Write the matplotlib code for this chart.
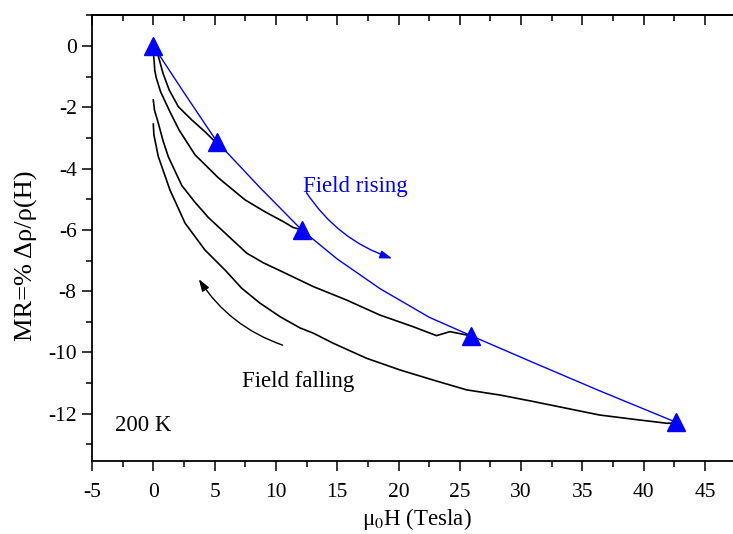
import numpy as np
import matplotlib.pyplot as plt
from matplotlib.patches import FancyArrowPatch

plt.rcParams['font.family'] = ['Liberation Serif', 'DejaVu Serif']
plt.rcParams['mathtext.fontset'] = 'stix'
plt.rcParams['axes.unicode_minus'] = False

# field rising: measured points (Tesla, MR %)
rise_h = [0.0, 5.2, 12.1, 25.9, 42.6]
rise_mr = [0.0, -3.13, -6.0, -9.45, -12.27]

# guide line through the rising points
guide_h = [0.0, 2.6, 5.2, 8.7, 12.1, 15.0, 18.5, 22.5, 25.9, 31.0, 36.4, 42.6]
guide_mr = [0.0, -1.58, -3.13, -4.62, -6.0, -6.95, -7.92, -8.85, -9.45, -10.33, -11.25, -12.27]

# field falling sweeps, one per maximum field
fall_a_h = [0.0, 0.1, 0.4, 0.8, 1.3, 2.04, 3.13, 4.22, 4.9, 5.2]
fall_a_mr = [-0.05, -0.15, -0.32, -0.9, -1.44, -1.98, -2.41, -2.8, -3.07, -3.13]

fall_b_h = [0.0, 0.08, 0.12, 0.25, 0.6, 1.36, 2.1, 3.4, 5.3, 7.48, 9.11, 10.6, 11.4, 12.1]
fall_b_mr = [-0.2, -0.55, -0.8, -1.05, -1.5, -2.15, -2.74, -3.55, -4.3, -5.02, -5.41, -5.73, -5.92, -6.0]

fall_c_h = [0.0, 0.1, 0.41, 0.8, 1.22, 2.32, 3.4, 4.5, 5.71, 7.62, 9.0, 10.33, 13.05,
            15.77, 18.49, 21.2, 23.1, 24.2, 25.56, 25.9]
fall_c_mr = [-1.76, -2.1, -2.52, -3.1, -3.61, -4.55, -5.1, -5.6, -6.05, -6.76, -7.08, -7.33,
             -7.85, -8.29, -8.78, -9.16, -9.45, -9.32, -9.43, -9.45]

fall_d_h = [0.0, 0.05, 0.41, 1.36, 2.59, 4.22, 5.85, 7.2, 8.7, 10.33, 11.97, 13.05, 14.68,
            17.4, 20.12, 22.83, 25.56, 28.3, 31.0, 33.7, 36.4, 39.2, 41.9, 42.6]
fall_d_mr = [-2.55, -2.9, -3.61, -4.7, -5.78, -6.66, -7.31, -7.9, -8.39, -8.83, -9.2, -9.37, -9.7,
             -10.19, -10.57, -10.9, -11.22, -11.39, -11.6, -11.82, -12.04, -12.18, -12.31, -12.3]

fig = plt.figure(figsize=(7.33, 5.34), dpi=100)
ax = fig.add_axes([0.1255, 0.1373, 0.8865, 0.8352])

for h, mr in [(fall_a_h, fall_a_mr), (fall_b_h, fall_b_mr),
              (fall_c_h, fall_c_mr), (fall_d_h, fall_d_mr)]:
    ax.plot(h, mr, color='black', lw=1.2)

ax.plot(guide_h, guide_mr, color='blue', lw=1.0)
ax.plot(rise_h, rise_mr, linestyle='none', marker='^', ms=13, color='blue', zorder=5, clip_on=False)

ax.set_xlim(-5, 48)
ax.set_ylim(-13.53, 1.02)
ax.set_xticks(np.arange(-5, 46, 5))
ax.set_xticks(np.arange(-5, 48, 2.5), minor=True)
ax.set_yticks(np.arange(-12, 1, 2))
ax.set_yticks(np.arange(-13, 1.5, 1), minor=True)

ax.spines['right'].set_visible(False)
for s in ['left', 'bottom', 'top']:
    ax.spines[s].set_linewidth(1.3)

ax.tick_params(which='major', direction='out', length=7, width=1.1, labelsize=15.5)
ax.tick_params(axis='x', which='major', pad=9)
ax.tick_params(axis='y', which='major', pad=4)
ax.tick_params(which='minor', direction='out', length=4, width=1.1)

top = ax.secondary_xaxis('top')
top.set_xticks(np.arange(-5, 46, 5))
top.set_xticks(np.arange(-5, 48, 2.5), minor=True)
top.tick_params(which='major', direction='in', length=7, width=1.1, labeltop=False)
top.tick_params(which='minor', direction='in', length=4, width=1.1)
top.spines['top'].set_linewidth(1.3)

ax.set_xlabel('μ$_0$H (Tesla)', fontsize=16.5, labelpad=3)
ax.set_ylabel('MR=% Δρ/ρ(H)', fontsize=19, va='center')
ax.yaxis.set_label_coords(-0.101, 0.459)

ax.text(12.24, -4.57, 'Field rising', color='blue', fontsize=16.5, ha='left', va='center')
ax.text(7.26, -10.96, 'Field falling', color='black', fontsize=16.5, ha='left', va='center')
ax.text(-3.12, -12.37, '200 K', color='black', fontsize=16.5, ha='left', va='center')

ax.add_patch(FancyArrowPatch((12.37, -4.71), (19.7, -6.96), connectionstyle='arc3,rad=0.18',
                             arrowstyle='-|>,head_length=0.6,head_width=0.2', mutation_scale=12,
                             color='blue', lw=1.0))
ax.add_patch(FancyArrowPatch((10.76, -9.79), (3.59, -7.53), connectionstyle='arc3,rad=-0.18',
                             arrowstyle='-|>,head_length=0.6,head_width=0.2', mutation_scale=12,
                             color='black', lw=1.0))

fig.savefig('out.png', dpi=100)
